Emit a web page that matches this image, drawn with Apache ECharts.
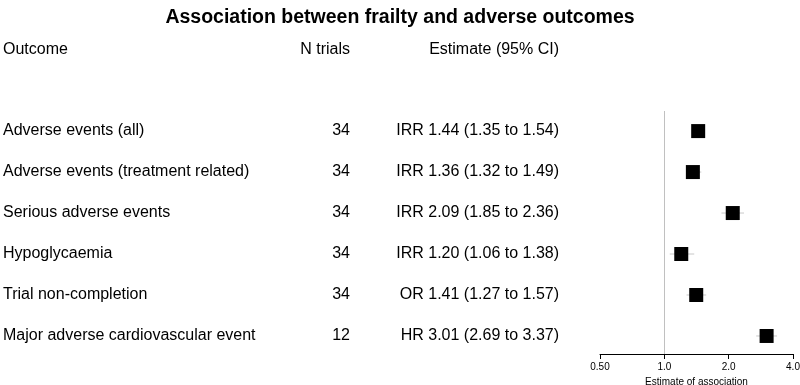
<!DOCTYPE html>
<html>
<head>
<meta charset="utf-8">
<script src="https://cdn.jsdelivr.net/npm/echarts@6/dist/echarts.min.js"></script>
<style>
  html, body { margin: 0; padding: 0; background: #fff; }
  #chart { width: 800px; height: 385px; }
</style>
</head>
<body>
<div id="chart"></div>
<script>
// data
const outcomes = [
  'Adverse events (all)',
  'Adverse events (treatment related)',
  'Serious adverse events',
  'Hypoglycaemia',
  'Trial non-completion',
  'Major adverse cardiovascular event'
]
const nTrials = [34, 34, 34, 34, 34, 12]
const measure = ['IRR', 'IRR', 'IRR', 'IRR', 'OR', 'HR']
const estimate = [1.44, 1.36, 2.09, 1.20, 1.41, 3.01]
const lower = [1.35, 1.32, 1.85, 1.06, 1.27, 2.69]
const upper = [1.54, 1.49, 2.36, 1.38, 1.57, 3.37]
const xTicks = [0.5, 1, 2, 4]
const xTickLabels = ['0.50', '1.0', '2.0', '4.0']

const FONT = 'Liberation Sans, Arial, sans-serif'
const fmt = (v) => v.toFixed(2)
const estText = estimate.map((e, i) => `${measure[i]} ${fmt(e)} (${fmt(lower[i])} to ${fmt(upper[i])})`)

const chart = echarts.init(document.getElementById('chart'))

const rowAxis = (idx) => ({
  type: 'value',
  gridIndex: idx,
  min: -0.49,
  max: 5.44,
  inverse: true,
  show: false
})

// table columns drawn as text on a hidden 0..800 axis, one row per outcome
const textSeries = (x, texts, align) => ({
  type: 'custom',
  xAxisIndex: 1,
  yAxisIndex: 1,
  silent: true,
  data: texts.map((t, i) => [x, i]),
  renderItem: (params, api) => {
    const p = api.coord([api.value(0), api.value(1)])
    return {
      type: 'text',
      x: p[0],
      y: p[1],
      style: {
        text: String(texts[params.dataIndex]),
        fill: '#000',
        font: '16px ' + FONT,
        textAlign: align,
        textVerticalAlign: 'middle'
      }
    }
  }
})

chart.setOption({
  animation: false,
  title: {
    text: 'Association between frailty and adverse outcomes',
    left: 'center',
    top: 3,
    textStyle: { fontSize: 19.5, fontWeight: 'bold', color: '#000', fontFamily: FONT }
  },
  graphic: [
    { type: 'text', left: 3, top: 42, style: { text: 'Outcome', fontSize: 16, fontFamily: FONT, fill: '#000' } },
    { type: 'text', right: 450, top: 42, style: { text: 'N trials', fontSize: 16, fontFamily: FONT, fill: '#000' } },
    { type: 'text', right: 241, top: 42, style: { text: 'Estimate (95% CI)', fontSize: 16, fontFamily: FONT, fill: '#000' } }
  ],
  grid: [
    { left: 600, right: 7, top: 111, bottom: 31, outerBoundsMode: 'none', containLabel: false },
    { left: 0, right: 0, top: 111, bottom: 31, outerBoundsMode: 'none', containLabel: false }
  ],
  xAxis: [
    {
      type: 'log',
      logBase: 2,
      min: 0.5,
      max: 4,
      gridIndex: 0,
      splitLine: { show: false },
      axisLine: { show: true, onZero: false, lineStyle: { color: '#000', width: 1 } },
      axisTick: { show: true, length: 5, lineStyle: { color: '#000' } },
      axisLabel: {
        color: '#000',
        fontSize: 10,
        fontFamily: FONT,
        margin: 8,
        formatter: (v) => {
          const k = xTicks.findIndex((t) => Math.abs(t - v) < 1e-6)
          return k >= 0 ? xTickLabels[k] : ''
        }
      },
      name: 'Estimate of association',
      nameLocation: 'middle',
      nameGap: 21,
      nameTextStyle: { color: '#000', fontSize: 10, fontFamily: FONT }
    },
    { type: 'value', gridIndex: 1, min: 0, max: 800, show: false }
  ],
  yAxis: [rowAxis(0), rowAxis(1)],
  series: [
    {
      // confidence intervals
      type: 'custom',
      xAxisIndex: 0,
      yAxisIndex: 0,
      silent: true,
      z: 2,
      data: estimate.map((e, i) => [lower[i], upper[i], i]),
      renderItem: (params, api) => {
        const a = api.coord([api.value(0), api.value(2)])
        const b = api.coord([api.value(1), api.value(2)])
        return {
          type: 'line',
          shape: { x1: a[0], y1: a[1], x2: b[0], y2: b[1] },
          style: { stroke: '#c8c8c8', lineWidth: 1 }
        }
      }
    },
    {
      type: 'scatter',
      xAxisIndex: 0,
      yAxisIndex: 0,
      symbol: 'rect',
      symbolSize: 14,
      z: 3,
      itemStyle: { color: '#000', opacity: 1 },
      data: estimate.map((e, i) => [e, i]),
      markLine: {
        silent: true,
        symbol: 'none',
        label: { show: false },
        lineStyle: { color: '#c0c0c0', type: 'solid', width: 1 },
        data: [{ xAxis: 1 }]
      }
    },
    textSeries(3, outcomes, 'left'),
    textSeries(350, nTrials, 'right'),
    textSeries(559, estText, 'right')
  ]
})
</script>
</body>
</html>
